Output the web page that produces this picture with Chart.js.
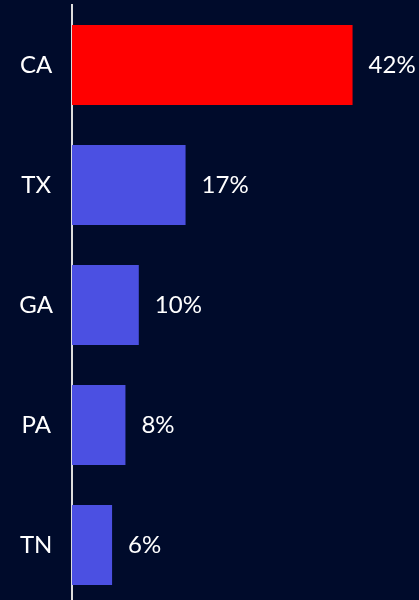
<!DOCTYPE html>
<html>
<head>
<meta charset="utf-8">
<script src="https://cdn.jsdelivr.net/npm/chart.js@4"></script>
<style>
  html, body { margin: 0; padding: 0; background: #000b2b; overflow: hidden; }
  canvas { display: block; }
</style>
</head>
<body>
<canvas id="stateChart" width="419" height="605"></canvas>
<script>
const states = ["CA", "TX", "GA", "PA", "TN"];
const shares = [42, 17, 10, 8, 6];
const barColors = ["#ff0000", "#4b50e2", "#4b50e2", "#4b50e2", "#4b50e2"];

// value labels at the end of each bar
const endLabels = {
  id: "endLabels",
  afterDatasetsDraw(chart) {
    const ctx = chart.ctx;
    const meta = chart.getDatasetMeta(0);
    ctx.save();
    ctx.fillStyle = "#ffffff";
    ctx.font = "24px Lato";
    ctx.textAlign = "left";
    ctx.textBaseline = "middle";
    meta.data.forEach(function (bar, i) {
      ctx.fillText(shares[i] + "%", bar.x + 16, bar.y);
    });
    ctx.restore();
  },
};

const ctx = document.getElementById("stateChart").getContext("2d");
const chart = new Chart(ctx, {
  type: "bar",
  data: {
    labels: states,
    datasets: [
      {
        data: shares,
        backgroundColor: barColors,
        borderWidth: 0,
        barPercentage: 0.667,
        categoryPercentage: 1,
      },
    ],
  },
  options: {
    indexAxis: "y",
    responsive: false,
    animation: false,
    layout: { padding: { top: 5, right: 13, left: 0, bottom: 0 } },
    plugins: {
      legend: { display: false },
      tooltip: { enabled: false },
    },
    scales: {
      x: { display: false, min: 0, max: 50 },
      y: {
        afterFit: function (scale) {
          scale.width = 72;
          scale.paddingTop = 0;
          scale.paddingBottom = 0;
        },
        grid: { display: false, drawTicks: false },
        border: { display: true, color: "#dddddd", width: 2 },
        ticks: {
          color: "#ffffff",
          font: { family: "Lato", size: 24 },
          padding: 19,
          crossAlign: "center",
        },
      },
    },
  },
  plugins: [endLabels],
});
</script>
</body>
</html>
